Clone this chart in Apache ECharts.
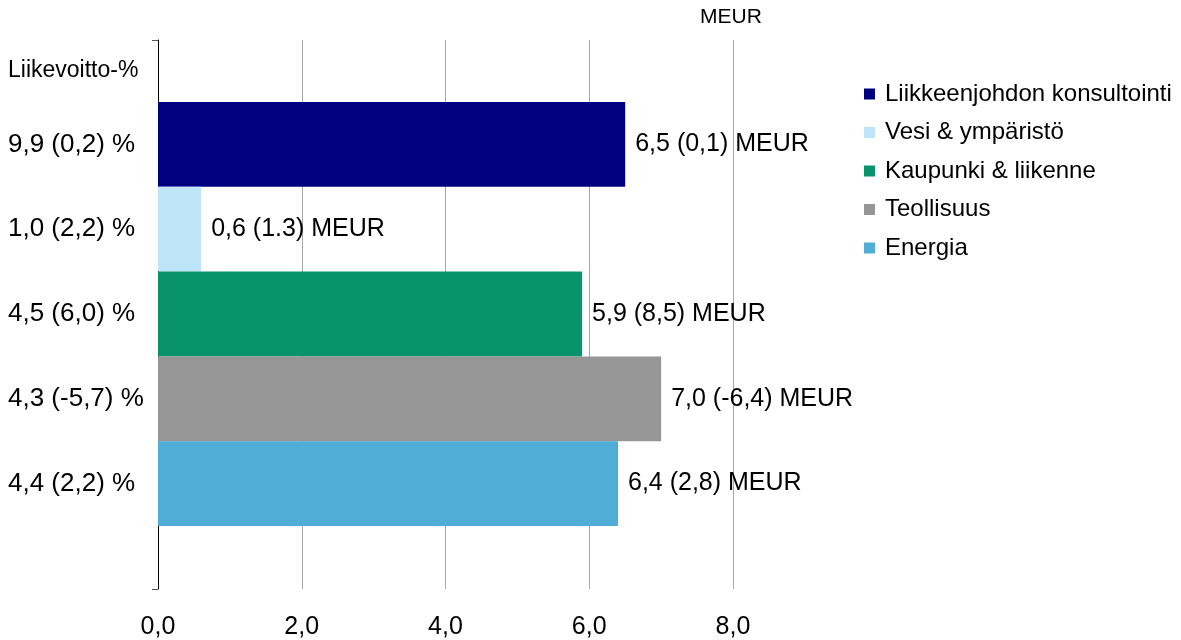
<!DOCTYPE html>
<html>
<head>
<meta charset="utf-8">
<script src="https://cdn.jsdelivr.net/npm/echarts@6/dist/echarts.min.js"></script>
<style>
html,body{margin:0;padding:0;background:#fff;}
#chart{width:1181px;height:640px;}
</style>
</head>
<body>
<div id="chart"></div>
<script>
const segments = ["Liikkeenjohdon konsultointi", "Vesi & ympäristö", "Kaupunki & liikenne", "Teollisuus", "Energia"];
const operatingProfit = [6.5, 0.6, 5.9, 7.0, 6.4];
const prevProfit = ["(0,1)", "(1.3)", "(8,5)", "(-6,4)", "(2,8)"];
const marginLabels = ["9,9 (0,2) %", "1,0 (2,2) %", "4,5 (6,0) %", "4,3 (-5,7) %", "4,4 (2,2) %"];
const xTicks = [0, 2, 4, 6, 8];
const colors = ["#000080", "#BDE4F7", "#08936C", "#969696", "#50ADD5"];

const fmt = v => v.toFixed(1).replace('.', ',');
const font = "Liberation Sans, Arial, sans-serif";

const chart = echarts.init(document.getElementById('chart'));
const series = segments.map((name, i) => ({
  name: name,
  type: 'bar',
  xAxisIndex: 1,
  yAxisIndex: 1,
  stack: 'all',
  barWidth: '100%',
  itemStyle: { color: colors[i] },
  data: segments.map((_, j) => j === i ? operatingProfit[i] : '-'),
  label: {
    show: true,
    position: 'right',
    distance: 10,
    fontFamily: font,
    fontSize: 25,
    color: '#000',
    formatter: p => fmt(p.value) + ' ' + prevProfit[i] + ' MEUR'
  }
}));

chart.setOption({
  animation: false,
  textStyle: { fontFamily: font },
  grid: [
    { left: 158, width: 575, top: 40, height: 550 },
    { left: 158, width: 575, top: 102, height: 424 }
  ],
  xAxis: [
    {
      gridIndex: 0, type: 'value', min: xTicks[0], max: xTicks[xTicks.length - 1], interval: 2,
      axisLine: { show: false }, axisTick: { show: false },
      splitLine: { show: true, lineStyle: { color: '#A6A6A6', width: 1 } },
      axisLabel: { margin: 26, fontSize: 25, color: '#000', fontFamily: font, formatter: v => fmt(v) }
    },
    { gridIndex: 1, type: 'value', min: 0, max: 8, show: false }
  ],
  yAxis: [
    {
      gridIndex: 0, type: 'value', min: 0, max: 1, interval: 1,
      axisLine: { show: true, lineStyle: { color: '#000', width: 1 } },
      axisTick: { show: true, length: 6, lineStyle: { color: '#555' } },
      axisLabel: { show: false }, splitLine: { show: false }
    },
    {
      gridIndex: 1, type: 'category', inverse: true, data: marginLabels,
      axisLine: { show: false }, axisTick: { show: false },
      axisLabel: { margin: 150, align: 'left', fontSize: 26, color: '#000', fontFamily: font }
    }
  ],
  legend: {
    orient: 'vertical',
    left: 859,
    top: 77,
    itemWidth: 11,
    itemHeight: 11,
    itemGap: 14.5,
    icon: 'rect',
    textStyle: { fontSize: 24, color: '#000', fontFamily: font, lineHeight: 24, padding: [0, 0, 0, 5] },
    data: segments
  },
  graphic: [
    { type: 'text', left: 8, top: 59, style: { text: 'Liikevoitto-%', fontSize: 23, fill: '#000', fontFamily: font } },
    { type: 'text', left: 700, top: 7, style: { text: 'MEUR', fontSize: 21, fill: '#000', fontFamily: font } }
  ],
  series: series
});
</script>
</body>
</html>
